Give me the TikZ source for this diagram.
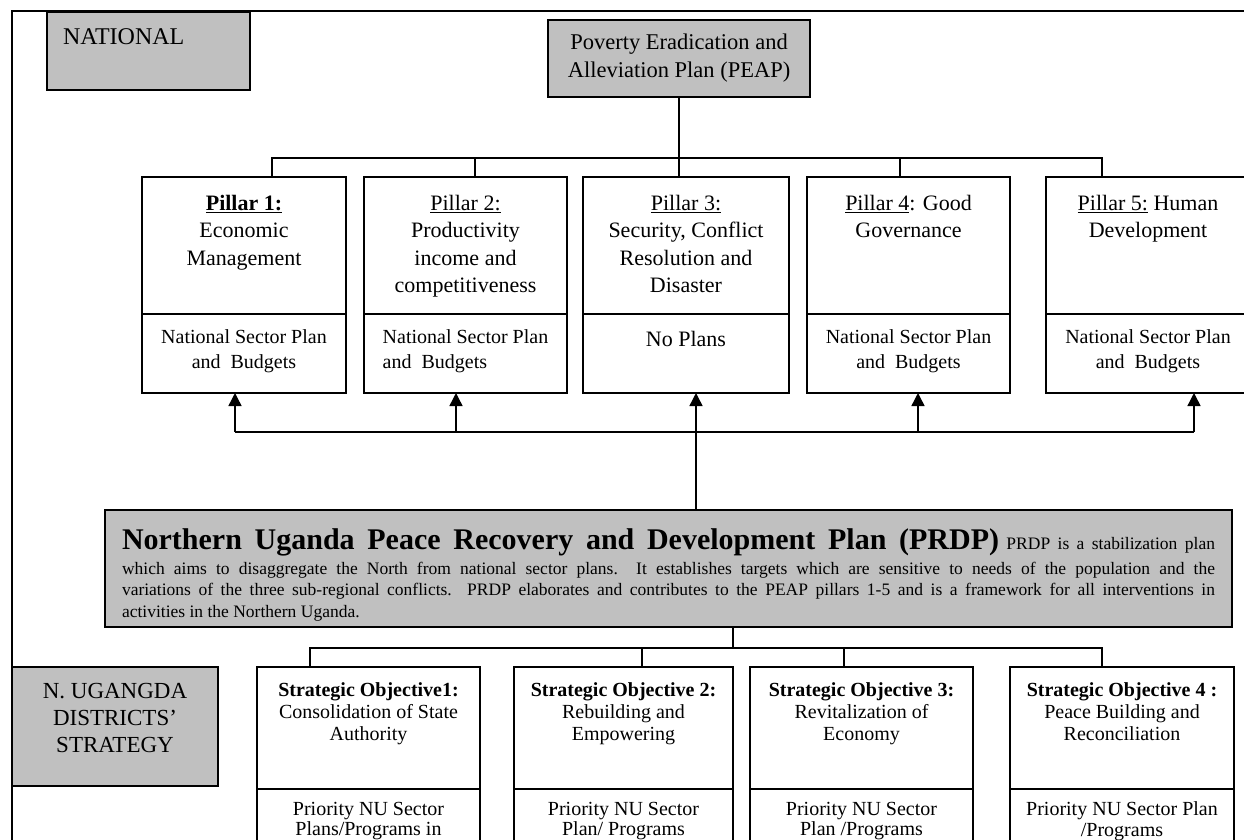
\documentclass[tikz,border=0pt]{standalone}
\usepackage{fontspec}
\setmainfont{Liberation Serif}
\usetikzlibrary{positioning,arrows.meta}
\definecolor{boxgray}{RGB}{192,192,192}

\begin{document}
\begin{tikzpicture}[x=1pt,y=-1pt,line width=1.4pt]
    \tikzstyle{every node}=[inner sep=0pt, outer sep=0pt]
    \tikzstyle{box}=[draw, line width=1.6pt, anchor=north west]
    \tikzstyle{graybox}=[box, fill=boxgray]
    \tikzstyle{big}=[font=\fontsize{22}{27.5}\selectfont, align=center]
    \tikzstyle{plan}=[font=\fontsize{20}{25}\selectfont, align=center]
    \tikzstyle{obj}=[font=\fontsize{20}{22}\selectfont, align=center]
    \tikzstyle{up}=[-{Triangle[length=13pt,width=13pt]}]

    \useasboundingbox (0,0) rectangle (1244,840);
    \clip (0,0) rectangle (1244,840);
    \draw[line width=1.6pt] (12,850) -- (12,11) -- (1260,11);

    \node[graybox, minimum width=203pt, minimum height=78pt] (nat) at (47,12) {};
    \node[big, anchor=west, font=\fontsize{24}{27}\selectfont] at ([xshift=16pt,yshift=-25pt]nat.north west) {NATIONAL};

    \node[graybox, big, font=\fontsize{22.5}{28}\selectfont, minimum width=262pt, minimum height=77pt] (peap) at (548,20)
        {Poverty Eradication and\\Alleviation Plan (PEAP)};

    \node[box, minimum width=204pt, minimum height=137pt] (p1) at (142,177) {};
    \node[box, minimum width=203pt, minimum height=137pt] (p2) at (364,177) {};
    \node[box, minimum width=206pt, minimum height=137pt] (p3) at (583,177) {};
    \node[box, minimum width=203pt, minimum height=137pt] (p4) at (807,177) {};
    \node[box, minimum width=210pt, minimum height=137pt] (p5) at (1046,177) {};
    \node[box, minimum width=204pt, minimum height=79pt] (p1b) at (142,314) {};
    \node[box, minimum width=203pt, minimum height=79pt] (p2b) at (364,314) {};
    \node[box, minimum width=206pt, minimum height=79pt] (p3b) at (583,314) {};
    \node[box, minimum width=203pt, minimum height=79pt] (p4b) at (807,314) {};
    \node[box, minimum width=210pt, minimum height=79pt] (p5b) at (1046,314) {};

    \node[big, below=18pt of p1.north] {\textbf{\underline{Pillar 1:}}\\Economic\\Management};
    \node[big, below=18pt of p2.north] {\underline{Pillar 2:}\\Productivity\\income and\\competitiveness};
    \node[big, below=18pt of p3.north] {\underline{Pillar 3:}\\Security, Conflict\\Resolution and\\Disaster};
    \node[big, below=18pt of p4.north] {\underline{Pillar 4}: Good\\Governance};
    \node[big, below=18pt of p5.north, xshift=-3pt] {\underline{Pillar 5:} Human\\Development};

    \node[plan, below=16pt of p1b.north] {National Sector Plan\\and~ Budgets};
    \node[plan, align=left, below=16pt of p2b.north] {National Sector Plan\\and~ Budgets};
    \node[big, below=17pt of p3b.north] {No Plans};
    \node[plan, below=16pt of p4b.north] {National Sector Plan\\and~ Budgets};
    \node[plan, below=16pt of p5b.north, xshift=-3pt] {National Sector Plan\\and~ Budgets};

    \coordinate (t1) at (272,158);
    \coordinate (t2) at (475,158);
    \coordinate (t3) at (679,158);
    \coordinate (t4) at (900,158);
    \coordinate (t5) at (1102,158);
    \draw (t1 |- p1.north) -- (t1) -- (t5) -- (t5 |- p5.north);
    \draw (t2) -- (t2 |- p2.north);
    \draw (t3 |- peap.south) -- (t3) -- (t3 |- p3.north);
    \draw (t4) -- (t4 |- p4.north);

    \node[graybox, text width=1093pt, inner xsep=17pt, inner ysep=3pt, text height=36pt, text depth=75pt,
          align=justify, font=\fontsize{17.5}{21.5}\selectfont] (prdp) at (105,510)
        {{\fontsize{30}{21.5}\selectfont\bfseries Northern Uganda Peace Recovery and Development Plan (PRDP)} PRDP is a stabilization plan\vadjust{\kern3.5pt}\linebreak
        which aims to disaggregate the North from national sector plans.\ \ It establishes targets which are sensitive to needs of the population and the\linebreak
        variations of the three sub-regional conflicts. PRDP elaborates and contributes to the PEAP pillars 1-5 and is a framework for all interventions in\linebreak
        activities in the Northern Uganda.};

    \coordinate (a1) at (235,432);
    \coordinate (a2) at (456,432);
    \coordinate (a3) at (696,432);
    \coordinate (a4) at (918,432);
    \coordinate (a5) at (1194,432);
    \draw (a1) -- (a5);
    \draw[up] (a1) -- (a1 |- p1b.south);
    \draw[up] (a2) -- (a2 |- p2b.south);
    \draw[up] (a3 |- prdp.north) -- (a3 |- p3b.south);
    \draw[up] (a4) -- (a4 |- p4b.south);
    \draw[up] (a5) -- (a5 |- p5b.south);

    \node[graybox, minimum width=206pt, minimum height=119pt] (nu) at (12,667) {};
    \node[big, font=\fontsize{23}{27}\selectfont, below=16pt of nu.north] {N. UGANGDA\\DISTRICTS'\\STRATEGY};

    \node[box, minimum width=223pt, minimum height=122pt] (s1) at (257,667) {};
    \node[box, minimum width=219pt, minimum height=122pt] (s2) at (514,667) {};
    \node[box, minimum width=223pt, minimum height=122pt] (s3) at (750,667) {};
    \node[box, minimum width=224pt, minimum height=122pt] (s4) at (1010,667) {};
    \node[box, minimum width=223pt, minimum height=80pt] (s1b) at (257,789) {};
    \node[box, minimum width=219pt, minimum height=80pt] (s2b) at (514,789) {};
    \node[box, minimum width=223pt, minimum height=80pt] (s3b) at (750,789) {};
    \node[box, minimum width=224pt, minimum height=80pt] (s4b) at (1010,789) {};

    \node[obj, below=16pt of s1.north] {\textbf{Strategic Objective1:}\\Consolidation of State\\Authority};
    \node[obj, below=16pt of s2.north] {\textbf{Strategic Objective 2:}\\Rebuilding and\\Empowering};
    \node[obj, below=16pt of s3.north] {\textbf{Strategic Objective 3:}\\Revitalization of\\Economy};
    \node[obj, below=16pt of s4.north] {\textbf{Strategic Objective 4 :}\\Peace Building and\\Reconciliation};

    \node[obj, font=\fontsize{20}{20.5}\selectfont, below=13pt of s1b.north] {Priority NU Sector\\Plans/Programs in};
    \node[obj, font=\fontsize{20}{20.5}\selectfont, below=13pt of s2b.north] {Priority NU Sector\\Plan/ Programs};
    \node[obj, font=\fontsize{20}{20.5}\selectfont, below=13pt of s3b.north] {Priority NU Sector\\Plan /Programs};
    \node[obj, font=\fontsize{20}{20.5}\selectfont, below=13pt of s4b.north] {Priority NU Sector Plan\\/Programs};

    \coordinate (u1) at (310,648);
    \coordinate (u2) at (642,648);
    \coordinate (u3) at (844,648);
    \coordinate (u4) at (1102,648);
    \coordinate (u0) at (733,648);
    \draw (u1 |- s1.north) -- (u1) -- (u4) -- (u4 |- s4.north);
    \draw (u2) -- (u2 |- s2.north);
    \draw (u3) -- (u3 |- s3.north);
    \draw (u0 |- prdp.south) -- (u0);
\end{tikzpicture}
\end{document}
